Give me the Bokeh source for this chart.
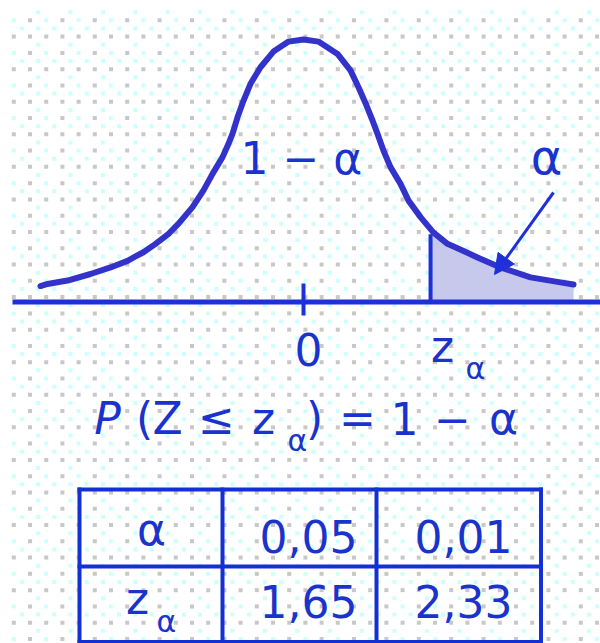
import numpy as np
from bokeh.plotting import figure
from bokeh.models import Range1d, Arrow, NormalHead
from bokeh.core.properties import value
from bokeh.embed import file_html
from bokeh.resources import INLINE

# ---------------- data ----------------
# bell curve: z position and relative height (peak = 1)
curve_z = [-2.391, -2.327, -2.145, -1.936, -1.755, -1.600, -1.527, -1.455,
           -1.345, -1.227, -1.136, -1.009, -0.909, -0.827, -0.736, -0.682,
           -0.645, -0.600, -0.545, -0.482, -0.391, -0.273, -0.136, 0.0,
           0.136, 0.309, 0.427, 0.500, 0.573, 0.627, 0.673, 0.727,
           0.791, 0.882, 0.955, 1.064, 1.182, 1.309, 1.445, 1.582,
           1.791, 2.064, 2.336, 2.455]
curve_h = [0.059, 0.067, 0.080, 0.105, 0.130, 0.155, 0.172, 0.188,
           0.220, 0.258, 0.297, 0.360, 0.424, 0.487, 0.551, 0.602,
           0.641, 0.703, 0.767, 0.831, 0.894, 0.954, 0.992, 1.000,
           0.992, 0.945, 0.882, 0.818, 0.748, 0.691, 0.640, 0.576,
           0.513, 0.449, 0.385, 0.322, 0.263, 0.220, 0.195, 0.168,
           0.130, 0.092, 0.073, 0.065]
z_alpha = 1.155                      # critical value on the z axis
tick_labels = ["0", "z"]
table_header = ["α", "0,05", "0,01"]
table_values = ["z", "1,65", "2,33"]

# ---------------- layout helpers (pixel -> data) ----------------
W, H = 600, 643
X0, SX = 303.0, 110.0     # pixel of z = 0, pixels per unit z
Y0, SY = 301.0, 262.0     # pixel of height 0, pixels per unit height


def X(px):
    return (np.asarray(px, dtype=float) - X0) / SX


def Y(py):
    return (Y0 - np.asarray(py, dtype=float)) / SY


CURVE = "#3333cc"
AXIS = "#1f30d8"
TEXT = "#1a33cc"
TABLE = "#1230d4"
FONT = value("DejaVu Sans")

p = figure(width=W, height=H, x_range=Range1d(float(X(0)), float(X(W))),
           y_range=Range1d(float(Y(H)), float(Y(0))),
           output_backend="svg", toolbar_location=None, min_border=0,
           outline_line_color=None, background_fill_color="white",
           border_fill_color="white")
p.xaxis.visible = False
p.yaxis.visible = False
p.xgrid.visible = False
p.ygrid.visible = False

# ---------------- dotted background ----------------
A, B = np.meshgrid(np.arange(0, 74), np.arange(0, 79))
ma, mb = A % 4, B % 4
dpx = 13.3 + 8.1 * A
dpy = 11.7 + 8.14 * B
inside = (dpx < W) & (dpy < H)
cyan = (((mb == 0) & (ma == 3)) | ((mb == 1) & (ma == 0)) | ((mb == 2) & (ma % 2 == 1))) & inside
gray = (((mb == 1) & (ma == 2)) | ((mb == 3) & (ma % 2 == 0))) & inside
p.scatter(X(dpx[cyan]), Y(dpy[cyan]), marker="square", size=4,
          fill_color="#ccffff", line_color=None)
p.scatter(X(dpx[gray]), Y(dpy[gray]), marker="square", size=4,
          fill_color="#c8c8c8", line_color=None)

# ---------------- shaded tail ----------------
zs = np.linspace(z_alpha, curve_z[-1], 80)
hs = np.interp(zs, curve_z, curve_h)
p.varea(x=zs, y1=np.zeros_like(zs), y2=hs, fill_color="#c6c8ec")
p.segment(x0=[z_alpha], y0=[0], x1=[z_alpha],
          y1=[float(np.interp(z_alpha, curve_z, curve_h)) - 0.02],
          line_width=4, line_color=AXIS)

# ---------------- axis & tick ----------------
p.segment(x0=[float(X(12))], y0=[-0.002], x1=[float(X(W))], y1=[-0.002],
          line_width=5, line_color=AXIS)
p.segment(x0=[0], y0=[float(Y(283))], x1=[0], y1=[float(Y(315))],
          line_width=4, line_color=AXIS)

# ---------------- curve ----------------
p.line(curve_z, curve_h, line_width=6, line_color=CURVE,
       line_join="round", line_cap="round")

# ---------------- arrow to alpha ----------------
p.add_layout(Arrow(end=NormalHead(size=20, fill_color=AXIS, line_color=AXIS),
                   x_start=float(X(553)), y_start=float(Y(192)),
                   x_end=float(X(494)), y_end=float(Y(274)),
                   line_width=3, line_color=AXIS))

BASE_SHIFT = 0.43   # renderer places alphabetic baselines ~0.43 em low


def txt(s, px, py, size=44, align="center", style="normal"):
    py_adj = py - BASE_SHIFT * size
    p.text(x=[float(X(px))], y=[float(Y(py_adj))], text=[s], text_font=FONT,
           text_font_size=f"{size}px", text_align=align,
           text_baseline="alphabetic", text_color=TEXT,
           text_font_style=style)


# labels on the curve
txt("1 − α", 240, 177, align="left")
txt("α", 546, 177, size=48)

# axis labels
txt(tick_labels[0], 308, 368)
txt(tick_labels[1], 442, 365)
txt("α", 475, 381, size=30)

# formula P(Z ≤ z_α) = 1 − α
txt("P", 107, 437, style="italic")
txt("(", 144, 437)
txt("Z", 167, 437)
txt("≤", 216, 437)
txt("z", 263, 437)
txt("α", 297, 453, size=30)
txt(")", 314, 437)
txt("=", 357, 437)
txt("1", 404, 437)
txt("−", 452, 437)
txt("α", 503, 437)

# ---------------- table ----------------
col_x = [79, 222, 376, 540.5]
row_y = [489, 566, 641.5]
xs, ys = [], []
for yy in row_y:
    xs.append([float(X(col_x[0])), float(X(col_x[-1]))])
    ys.append([float(Y(yy)), float(Y(yy))])
for xx in col_x:
    xs.append([float(X(xx)), float(X(xx))])
    ys.append([float(Y(row_y[0])), float(Y(row_y[-1]))])
p.multi_line(xs, ys, line_width=4, line_color=TABLE, line_cap="square")

txt(table_header[0], 151, 548)
txt(table_header[1], 308, 555)
txt(table_header[2], 463, 555)
txt(table_values[0], 137, 617)
txt("α", 166, 634, size=30)
txt(table_values[1], 308, 620)
txt(table_values[2], 463, 620)

html = file_html(p, INLINE, title="Normal distribution")
html = html.replace("<head>", "<head><style>html,body{margin:0;padding:0;overflow:hidden;}</style>", 1)
with open("out.html", "w") as f:
    f.write(html)
